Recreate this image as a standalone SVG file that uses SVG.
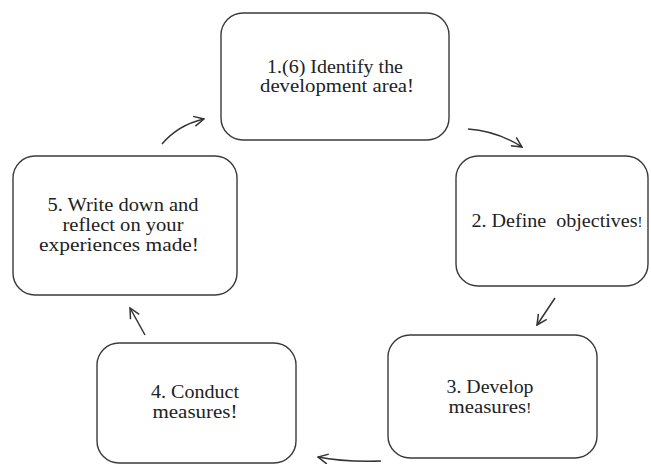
<svg xmlns="http://www.w3.org/2000/svg" width="651" height="464" viewBox="0 0 651 464">
<defs>
<style>
.box{fill:#fff;stroke:#3a3a3a;stroke-width:1.4}
.t{font-size:19px;fill:#222;text-anchor:middle}
.c{fill:none;stroke:#333;stroke-width:1.5}
</style>
<marker id="ah" viewBox="0 0 12 12" refX="11" refY="6" markerWidth="12" markerHeight="12" markerUnits="userSpaceOnUse" orient="auto">
<path d="M1,1 L11,6 L1,11" fill="none" stroke="#333" stroke-width="1.5"/>
</marker>
</defs>
<rect width="651" height="464" fill="#fff"/>
<g id="nodes" font-family="Liberation Serif, Times New Roman, serif">
<g id="node1">
<rect class="box" x="221" y="13" width="228" height="127" rx="22"/>
<text class="t" x="335" y="73" textLength="136" lengthAdjust="spacingAndGlyphs">1.(6) Identify the</text>
<text class="t" x="337" y="92" textLength="154" lengthAdjust="spacingAndGlyphs">development area!</text>
</g>
<g id="node2">
<rect class="box" x="456" y="156" width="192" height="130" rx="22"/>
<text class="t" x="557" y="227" xml:space="preserve" textLength="171" lengthAdjust="spacingAndGlyphs">2. Define  objectives<tspan font-size="14">!</tspan></text>
</g>
<g id="node3">
<rect class="box" x="388" y="335" width="209" height="123" rx="22"/>
<text class="t" x="490" y="393" textLength="87" lengthAdjust="spacingAndGlyphs">3. Develop</text>
<text class="t" x="490" y="413" textLength="83" lengthAdjust="spacingAndGlyphs">measures<tspan font-size="15">!</tspan></text>
</g>
<g id="node4">
<rect class="box" x="97" y="343" width="199" height="120" rx="22"/>
<text class="t" x="195" y="398" textLength="88" lengthAdjust="spacingAndGlyphs">4. Conduct</text>
<text class="t" x="195" y="418" textLength="85" lengthAdjust="spacingAndGlyphs">measures!</text>
</g>
<g id="node5">
<rect class="box" x="13" y="156" width="224" height="139" rx="22"/>
<text class="t" x="123" y="211" textLength="151" lengthAdjust="spacingAndGlyphs">5. Write down and</text>
<text class="t" x="123" y="231" textLength="121" lengthAdjust="spacingAndGlyphs">reflect on your</text>
<text class="t" x="119" y="251" textLength="160" lengthAdjust="spacingAndGlyphs">experiences made!</text>
</g>
</g>
<g id="connectors">
<path class="c" d="M162,144 Q178,125 204,119" marker-end="url(#ah)"/>
<path class="c" d="M468,129 Q497,131 522,147" marker-end="url(#ah)"/>
<path class="c" d="M555,298 L537,325" marker-end="url(#ah)"/>
<path class="c" d="M381,461 Q342,462 318,457" marker-end="url(#ah)"/>
<path class="c" d="M145,335 L130,308" marker-end="url(#ah)"/>
</g>
</svg>
